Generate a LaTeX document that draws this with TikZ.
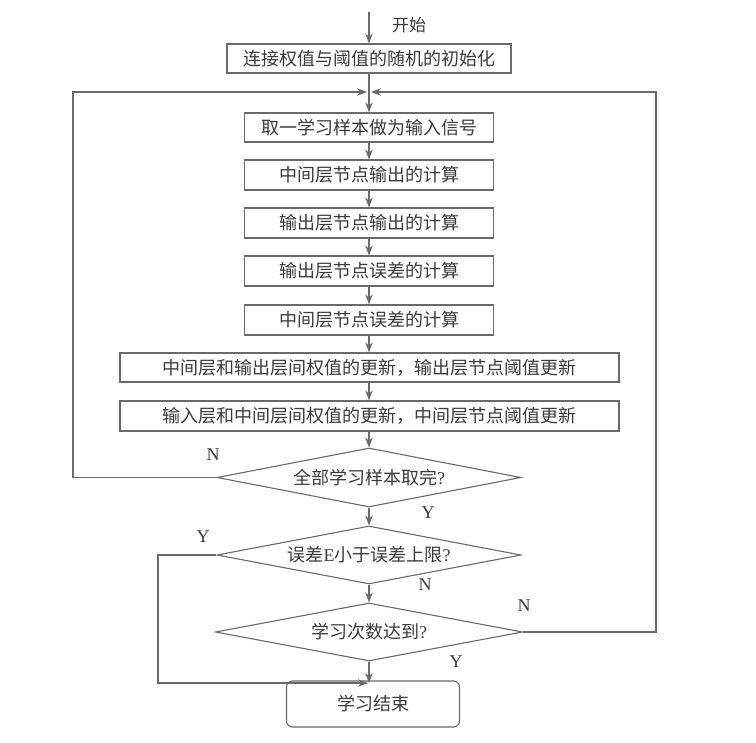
\documentclass[tikz,border=0pt]{standalone}
\usepackage{fontspec}
\setmainfont{Liberation Serif}
\newfontfamily\cjk{Noto Sans CJK SC}
\usetikzlibrary{shapes.geometric,arrows.meta}
\definecolor{ln}{HTML}{6A6A6A}
\definecolor{tx}{HTML}{3A3A3A}
\tikzset{
  every node/.style={text=tx},
  boxnode/.style={draw=ln,line width=1.1pt,rectangle,inner sep=0pt,font=\cjk\fontsize{18}{21}\selectfont},
  decnode/.style={draw=ln,line width=1.1pt,diamond,aspect=5,inner sep=0pt,font=\cjk\fontsize{18}{21}\selectfont},
  endnode/.style={draw=ln,line width=1.1pt,rectangle,rounded corners=6pt,inner sep=0pt,font=\cjk\fontsize{18}{21}\selectfont},
  lbl/.style={font=\fontsize{18}{20}\selectfont},
  conn/.style={draw=ln,line width=1.1pt},
  arr/.style={conn,-{Stealth[length=10pt,width=7.5pt]}}
}
\begin{document}
\begin{tikzpicture}[x=1pt,y=-1pt]
\useasboundingbox (0,0) rectangle (756,743);
\coordinate (start) at (369,12);
\node[font=\cjk\fontsize{17}{19}\selectfont] (kaishi) at (409,25) {开始};
\node[boxnode,minimum width=284pt,minimum height=29pt] (b1) at (369,58.5) {连接权值与阈值的随机的初始化};
\coordinate (j) at (369,92);
\node[boxnode,minimum width=249pt,minimum height=29pt] (b2) at (369,127.5) {取一学习样本做为输入信号};
\node[boxnode,minimum width=249pt,minimum height=30pt] (b3) at (369,175) {中间层节点输出的计算};
\node[boxnode,minimum width=249pt,minimum height=30pt] (b4) at (369,223) {输出层节点输出的计算};
\node[boxnode,minimum width=249pt,minimum height=30pt] (b5) at (369,271) {输出层节点误差的计算};
\node[boxnode,minimum width=249pt,minimum height=30pt] (b6) at (369,320) {中间层节点误差的计算};
\node[boxnode,minimum width=499pt,minimum height=29pt] (b7) at (369.5,367.5) {中间层和输出层间权值的更新，输出层节点阈值更新};
\node[boxnode,minimum width=499pt,minimum height=30pt] (b8) at (369.5,416) {输入层和中间层间权值的更新，中间层节点阈值更新};
\node[decnode,minimum width=304pt,minimum height=59pt] (d1) at (369,477.5) {全部学习样本取完{\rmfamily ?}};
\node[decnode,minimum width=304pt,minimum height=58pt] (d2) at (369,555) {误差{\rmfamily E}小于误差上限{\rmfamily ?}};
\node[decnode,minimum width=307pt,minimum height=58pt] (d3) at (369,632) {学习次数达到{\rmfamily ?}};
\node[endnode,minimum width=173pt,minimum height=46pt] (e) at (373,704) {学习结束};
\coordinate (lt) at (73,92);
\coordinate (lb) at (73,477.5);
\coordinate (rt) at (656,92);
\coordinate (rb) at (656,632);
\coordinate (yl1) at (158,555);
\coordinate (yl2) at (158,683);
\coordinate (eTop) at (369,683);
% connectors
\draw[arr] (start) -- (b1.north -| start);
\draw[conn] (b1.south -| j) -- (j);
\draw[arr] (j) -- (b2.north -| j);
\draw[arr] (b2.south -| j) -- (b3.north -| j);
\draw[arr] (b3.south -| j) -- (b4.north -| j);
\draw[arr] (b4.south -| j) -- (b5.north -| j);
\draw[arr] (b5.south -| j) -- (b6.north -| j);
\draw[arr] (b6.south -| j) -- (b7.north -| j);
\draw[arr] (b7.south -| j) -- (b8.north -| j);
\draw[arr] (b8.south -| j) -- (d1.north);
\draw[arr] (d1.south) -- (d2.north);
\draw[arr] (d2.south) -- (d3.north);
\draw[arr] (d3.south) -- (eTop);
\draw[arr] (d1.west) -- (lb) -- (lt) -- ([xshift=-2pt]j);
\draw[arr] (d3.east) -- (rb) -- (rt) -- ([xshift=2pt]j);
\draw[arr] (d2.west) -- (yl1) -- (yl2) -- ([xshift=-1pt]eTop);
% labels
\node[lbl] (n1) at (213,455) {N};
\node[lbl] (y1) at (428,513) {Y};
\node[lbl] (y2) at (203,537) {Y};
\node[lbl] (n2) at (425,585) {N};
\node[lbl] (n3) at (524,606) {N};
\node[lbl] (y3) at (456,662) {Y};
\end{tikzpicture}
\end{document}
